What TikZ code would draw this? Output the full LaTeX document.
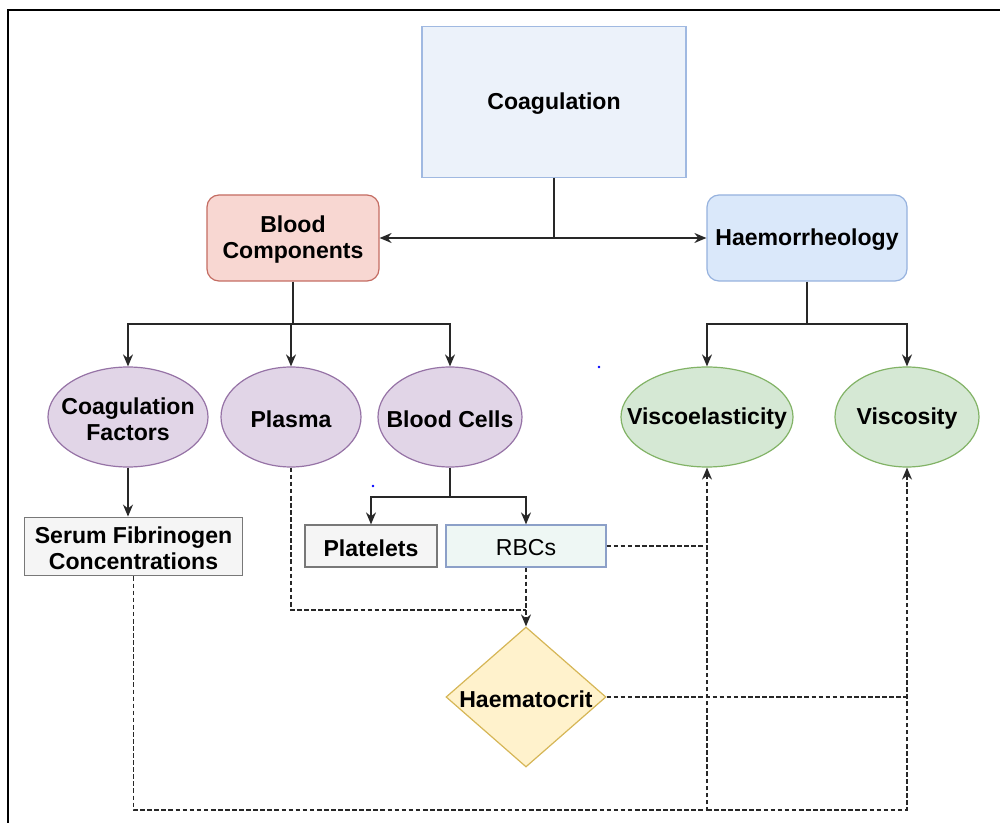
\documentclass[tikz,border=0pt]{standalone}
\usepackage{fontspec}
\setmainfont{Liberation Sans}
\usetikzlibrary{shapes.geometric,arrows.meta}

\definecolor{coagFill}{RGB}{236,242,250}
\definecolor{coagLine}{RGB}{160,185,225}
\definecolor{redFill}{RGB}{248,215,210}
\definecolor{redLine}{RGB}{196,108,98}
\definecolor{blueFill}{RGB}{218,232,250}
\definecolor{blueLine}{RGB}{150,178,222}
\definecolor{purpFill}{RGB}{225,213,231}
\definecolor{purpLine}{RGB}{150,115,166}
\definecolor{greenFill}{RGB}{213,232,212}
\definecolor{greenLine}{RGB}{130,179,102}
\definecolor{grayFill}{RGB}{245,245,245}
\definecolor{grayLine}{RGB}{120,120,120}
\definecolor{rbcFill}{RGB}{238,247,244}
\definecolor{rbcLine}{RGB}{140,160,200}
\definecolor{yelFill}{RGB}{255,242,204}
\definecolor{yelLine}{RGB}{214,182,86}
\definecolor{wire}{RGB}{40,40,40}

\tikzset{
  txt/.style={align=center, inner sep=0pt, yshift=-1.5pt,
    font=\fontsize{17.3}{19.5}\selectfont\bfseries},
  base/.style={draw, line width=0.9pt, inner sep=2pt, align=center,
    font=\fontsize{17.3}{19.5}\selectfont\bfseries},
  sqbox/.style={base, rectangle},
  rbox/.style={base, rectangle, rounded corners=9pt},
  oval/.style={draw, line width=0.9pt, ellipse, inner sep=0pt, minimum height=75pt},
  conn/.style={draw=wire, line width=1.1pt},
  tip/.style={-{Stealth[length=9pt,width=7.5pt]}},
  arr/.style={conn, tip},
  dotline/.style={conn, dash pattern=on 3.5pt off 1.8pt},
}

\begin{document}
\begin{tikzpicture}[x=0.75pt, y=-0.75pt]
\useasboundingbox (0,0) rectangle (1000,823);
\fill[white] (0,0) rectangle (1000,823);

% outer frame (open to the right and bottom)
\draw[line width=1.6pt] (8,823) -- (8,10) -- (1000,10);

% top level
\node[sqbox, fill=coagFill, draw=coagLine, minimum width=198pt, minimum height=113pt] (coag) at (554,102) {};
\node[txt] (coagT) at (coag.center) {Coagulation};
\node[rbox, fill=redFill, draw=redLine, minimum width=129pt, minimum height=64.5pt] (bcomp) at (293,238) {};
\node[txt] (bcompT) at (bcomp.center) {Blood\\Components};
\node[rbox, fill=blueFill, draw=blueLine, minimum width=150pt, minimum height=64.5pt] (haem) at (807,238) {};
\node[txt] (haemT) at (haem.center) {Haemorrheology};

% ellipses (shape first, then the label on top)
\node[oval, fill=purpFill, draw=purpLine, minimum width=120pt] (cfac) at (128,417) {};
\node[txt] (cfacT) at (cfac.center) {Coagulation\\Factors};
\node[oval, fill=purpFill, draw=purpLine, minimum width=105pt] (plasma) at (291,417) {};
\node[txt] (plasmaT) at (plasma.center) {Plasma};
\node[oval, fill=purpFill, draw=purpLine, minimum width=108pt] (bcells) at (450,417) {};
\node[txt] (bcellsT) at (bcells.center) {Blood Cells};
\node[oval, fill=greenFill, draw=greenLine, minimum width=129pt] (visel) at (707,417) {};
\node[txt] (viselT) at (visel.center) {Viscoelasticity};
\node[oval, fill=greenFill, draw=greenLine, minimum width=108pt] (visc) at (907,417) {};
\node[txt] (viscT) at (visc.center) {Viscosity};

% boxes
\node[sqbox, fill=grayFill, draw=grayLine, minimum width=163pt, minimum height=44pt] (serum) at (133.5,546.5) {};
\node[txt] (serumT) at (serum.center) {Serum Fibrinogen\\Concentrations};
\node[sqbox, fill=grayFill, draw=grayLine, minimum width=99pt, minimum height=31.5pt] (plt) at (371,546) {};
\node[txt] (pltT) at (plt.center) {Platelets};
\node[sqbox, fill=rbcFill, draw=rbcLine, minimum width=120pt, minimum height=31.5pt] (rbc) at (526,546) {};
\node[txt, font=\fontsize{17.3}{19.5}\selectfont] (rbcT) at (rbc.center) {RBCs};

% diamond
\node[diamond, draw=yelLine, fill=yelFill, line width=0.9pt, inner sep=0pt, minimum width=120pt, minimum height=105pt] (hct) at (526,697) {};
\node[txt] (hctT) at (hct.center) {Haematocrit};

% solid connectors
\coordinate (j1) at (554,238);
\draw[conn] (coag.south) -- (j1);
\draw[arr] (j1) -- (bcomp.east);
\draw[arr] (j1) -- (haem.west);

\coordinate (j2) at (293,324);
\draw[conn] (bcomp.south) -- (j2);
\draw[arr] (j2) -| (cfac.north);
\draw[arr] (j2) -| (plasma.north);
\draw[arr] (j2) -| (bcells.north);

\coordinate (j3) at (807,324);
\draw[conn] (haem.south) -- (j3);
\draw[arr] (j3) -| (visel.north);
\draw[arr] (j3) -| (visc.north);

\draw[arr] (cfac.south) -- (cfac.south |- serum.north);

\coordinate (j4) at (450,497);
\draw[conn] (bcells.south) -- (j4);
\draw[arr] (j4) -| (plt.north);
\draw[arr] (j4) -| (rbc.north);

% dashed connectors
\coordinate (j5) at (526,610);
\draw[dotline] (plasma.south) |- (j5);
\draw[dotline] (rbc.south) -- (j5);
\draw[dotline, tip] (j5) -- (hct.north);

\coordinate (j6) at (707,810);
\coordinate (j7) at (707,546);
\coordinate (j8) at (907,697);
\draw[dotline, tip] (serum.south) |- (j6) -- (visel.south);
\draw[dotline, tip] (j6) -| (visc.south);
\draw[dotline] (rbc.east) -- (j7);
\draw[dotline] (hct.east) -- (j8);

% stray marks
\fill[blue] (599,367) circle (1.1pt);
\fill[blue] (373,486) circle (1.1pt);
\end{tikzpicture}
\end{document}
